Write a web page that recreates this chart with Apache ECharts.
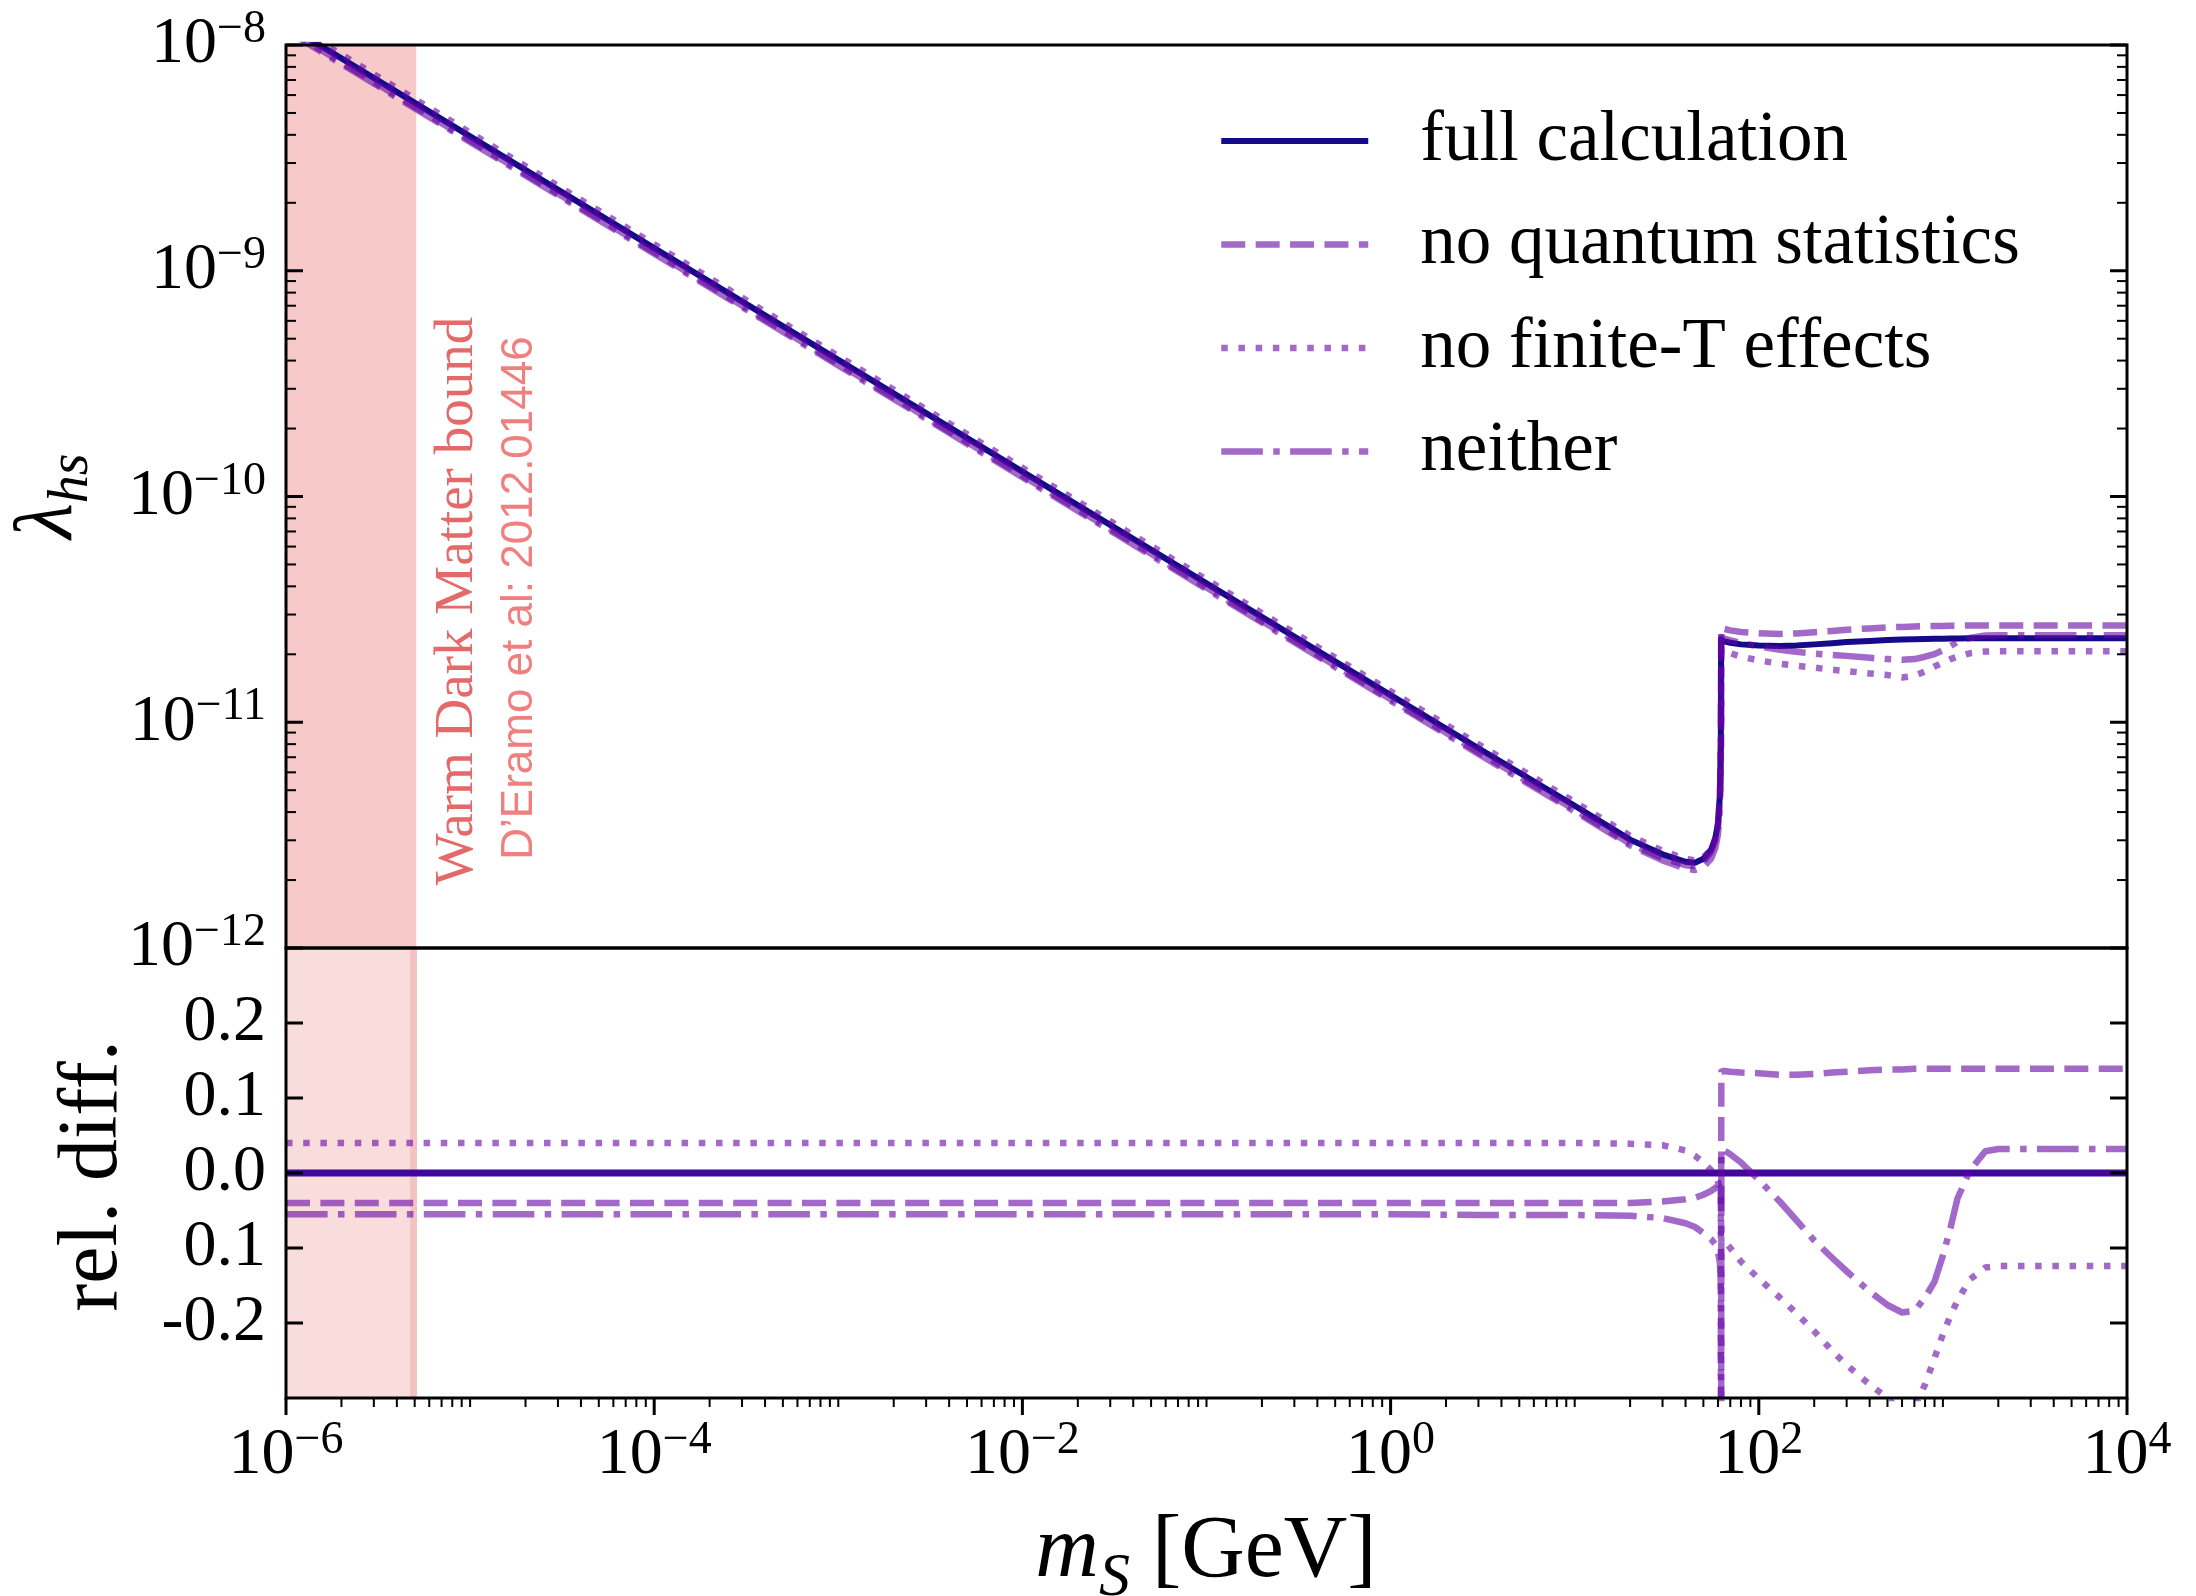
<!DOCTYPE html>
<html>
<head>
<meta charset="utf-8">
<title>Freeze-in coupling λhs versus scalar mass</title>
<script src="https://cdn.jsdelivr.net/npm/echarts@6/dist/echarts.min.js"></script>
<style>
  html, body { margin: 0; padding: 0; background: #ffffff; }
  #chart { width: 2196px; height: 1596px; }
</style>
</head>
<body>
<div id="chart"></div>
<script>
// ---------------------------------------------------------------------------
// Data: scalar mass grid (GeV) shared by every curve
// ---------------------------------------------------------------------------
const massGeV = [
  1e-6, 1e-5, 1e-4, 1e-3, 1e-2, 1e-1, 1, 3, 10,
  20, 30, 40, 45, 50, 55, 58, 60, 61.5,
  62.2, 62.4, 62.6,
  65, 70, 80, 100,
  130, 160, 200, 250, 300,
  400, 500, 600, 700, 800, 900, 1000,
  1100, 1200, 1400, 1700, 2000, 3000, 10000
];

// Coupling λhs giving the observed relic abundance
const lambdaFull = [
  1.230e-8, 3.936e-9, 1.259e-9, 4.027e-10, 1.288e-10, 4.121e-11, 1.318e-11, 7.674e-12, 4.266e-12,
  3.020e-12, 2.600e-12, 2.410e-12, 2.388e-12, 2.483e-12, 2.723e-12, 3.055e-12, 3.548e-12, 4.786e-12,
  7.943e-12, 2.333e-11, 2.317e-11,
  2.280e-11, 2.249e-11, 2.213e-11, 2.188e-11,
  2.178e-11, 2.188e-11, 2.213e-11, 2.239e-11, 2.265e-11,
  2.291e-11, 2.312e-11, 2.323e-11, 2.333e-11, 2.339e-11, 2.344e-11, 2.344e-11,
  2.350e-11, 2.350e-11, 2.355e-11, 2.355e-11, 2.355e-11, 2.355e-11, 2.355e-11
];
const lambdaNoQuantumStats = [
  1.181e-8, 3.779e-9, 1.209e-9, 3.866e-10, 1.236e-10, 3.956e-11, 1.265e-11, 7.367e-12, 4.095e-12,
  2.899e-12, 2.501e-12, 2.326e-12, 2.309e-12, 2.411e-12, 2.658e-12, 2.994e-12, 3.491e-12, 4.729e-12,
  7.705e-12, 2.146e-11, 2.630e-11,
  2.590e-11, 2.553e-11, 2.510e-11, 2.479e-11,
  2.463e-11, 2.475e-11, 2.505e-11, 2.539e-11, 2.571e-11,
  2.605e-11, 2.631e-11, 2.644e-11, 2.657e-11, 2.664e-11, 2.670e-11, 2.670e-11,
  2.677e-11, 2.677e-11, 2.682e-11, 2.682e-11, 2.682e-11, 2.682e-11, 2.682e-11
];
const lambdaNoFiniteT = [
  1.279e-8, 4.093e-9, 1.309e-9, 4.188e-10, 1.340e-10, 4.286e-11, 1.371e-11, 7.981e-12, 4.437e-12,
  3.138e-12, 2.696e-12, 2.482e-12, 2.443e-12, 2.518e-12, 2.734e-12, 3.043e-12, 3.505e-12, 4.690e-12,
  7.665e-12, 8.500e-12, 2.120e-11,
  2.075e-11, 2.024e-11, 1.952e-11, 1.879e-11,
  1.816e-11, 1.779e-11, 1.746e-11, 1.708e-11, 1.685e-11,
  1.645e-11, 1.618e-11, 1.580e-11, 1.605e-11, 1.679e-11, 1.765e-11, 1.840e-11,
  1.904e-11, 1.951e-11, 2.021e-11, 2.058e-11, 2.063e-11, 2.063e-11, 2.063e-11
];
const lambdaNeither = [
  1.162e-8, 3.720e-9, 1.190e-9, 3.806e-10, 1.217e-10, 3.894e-11, 1.246e-11, 7.244e-12, 4.027e-12,
  2.848e-12, 2.444e-12, 2.249e-12, 2.216e-12, 2.284e-12, 2.483e-12, 2.765e-12, 3.175e-12, 4.212e-12,
  6.752e-12, 7.500e-12, 2.387e-11,
  2.348e-11, 2.305e-11, 2.244e-11, 2.168e-11,
  2.095e-11, 2.050e-11, 2.014e-11, 1.986e-11, 1.968e-11,
  1.929e-11, 1.905e-11, 1.891e-11, 1.904e-11, 1.951e-11, 2.004e-11, 2.086e-11,
  2.178e-11, 2.270e-11, 2.362e-11, 2.423e-11, 2.430e-11, 2.430e-11, 2.430e-11
];

// Relative difference to the full calculation
const relMassFull = [1e-6, 1e4];
const relFull = [0, 0];
const relNoQuantumStats = [
  -0.040, -0.040, -0.040, -0.040, -0.040, -0.040, -0.040, -0.040, -0.040,
  -0.040, -0.038, -0.035, -0.033, -0.029, -0.024, -0.020, -0.016, -0.012,
  -0.030, -0.080, 0.135,
  0.136, 0.135, 0.134, 0.133,
  0.131, 0.131, 0.132, 0.134, 0.135,
  0.137, 0.138, 0.138, 0.139, 0.139, 0.139, 0.139,
  0.139, 0.139, 0.139, 0.139, 0.139, 0.139, 0.139
];
const relNoFiniteT = [
  0.040, 0.040, 0.040, 0.040, 0.040, 0.040, 0.040, 0.040, 0.040,
  0.039, 0.037, 0.030, 0.023, 0.014, 0.004, -0.004, -0.012, -0.020,
  -0.035, -0.636, -0.085,
  -0.090, -0.100, -0.118, -0.141,
  -0.166, -0.187, -0.211, -0.237, -0.256,
  -0.282, -0.300, -0.320, -0.312, -0.282, -0.247, -0.215,
  -0.190, -0.170, -0.142, -0.126, -0.124, -0.124, -0.124
];
const relNeither = [
  -0.055, -0.055, -0.055, -0.055, -0.055, -0.055, -0.055, -0.056, -0.056,
  -0.057, -0.060, -0.067, -0.072, -0.080, -0.088, -0.095, -0.105, -0.120,
  -0.150, -0.679, 0.030,
  0.030, 0.025, 0.014, -0.009,
  -0.038, -0.063, -0.090, -0.113, -0.131,
  -0.158, -0.176, -0.186, -0.184, -0.166, -0.145, -0.110,
  -0.073, -0.034, 0.003, 0.029, 0.032, 0.032, 0.032
];

// Warm dark matter exclusion (GeV)
const wdmBandMass = [1e-6, 5.1e-6];
const wdmEdgeMass = 4.93e-6;

// Axis ticks and labels
const xLabelExponents = [-6, -4, -2, 0, 2, 4];
const yUpperLabelExponents = [-12, -11, -10, -9, -8];
const yLowerTickValues = [-0.2, -0.1, 0.0, 0.1, 0.2];
const yLowerTickLabels = ['-0.2', '0.1', '0.0', '0.1', '0.2'];
const seriesNames = ['full calculation', 'no quantum statistics', 'no finite-T effects', 'neither'];

// ---------------------------------------------------------------------------
// Styling
// ---------------------------------------------------------------------------
const SERIF = '"Liberation Serif", "Times New Roman", serif';
const SANS = '"Liberation Sans", Arial, sans-serif';
const FULL_COLOR = '#140a8a';
const FULL_COLOR_REL = '#42089e';
const VARIANT_COLOR = 'rgba(100, 5, 165, 0.6)';
const LW = 6.5;
const lineStyles = [
  { color: FULL_COLOR, width: 6, type: 'solid' },
  { color: VARIANT_COLOR, width: LW, type: [24, 10.4] },
  { color: VARIANT_COLOR, width: LW, type: [6.5, 10.7] },
  { color: VARIANT_COLOR, width: LW, type: [41.6, 10.4, 6.5, 10.4] }
];

const powRich = {
  b: { fontFamily: SERIF, fontSize: 66, lineHeight: 66, verticalAlign: 'middle', color: '#000' },
  s: { fontFamily: SERIF, fontSize: 46, lineHeight: 36, height: 36, verticalAlign: 'top', color: '#000' }
};
function expOf(v) { return Math.round(Math.log10(v)); }
function powLabel(e) {
  return '{b|10}{s|' + (e < 0 ? '\u2212' + (-e) : String(e)) + '}';
}

// Tick positions (decade majors and 2..9 minors)
const xMajorTicks = xLabelExponents.map(e => Math.pow(10, e));
const xMinorTicks = [];
for (let e = -6; e < 4; e++) {
  for (let n = 1; n <= 9; n++) {
    if (n === 1 && xLabelExponents.indexOf(e) >= 0) continue;
    xMinorTicks.push(n * Math.pow(10, e));
  }
}
const yUpperMajorTicks = yUpperLabelExponents.map(e => Math.pow(10, e));
const yUpperMinorTicks = [];
for (let e = -12; e < -8; e++) {
  for (let n = 2; n <= 9; n++) yUpperMinorTicks.push(n * Math.pow(10, e));
}

function tickLine(x1, y1, x2, y2, major) {
  return { type: 'line', shape: { x1, y1, x2, y2 }, style: { stroke: '#000', lineWidth: major ? 3 : 2 } };
}
// inward ticks on the left and right edges of a panel
function yTickRender(params, api) {
  const cs = params.coordSys;
  const y = api.coord([api.value(0), api.value(1)])[1];
  const major = api.value(2) === 1;
  const len = major ? 17 : 10;
  return {
    type: 'group',
    children: [
      tickLine(cs.x, y, cs.x + len, y, major),
      tickLine(cs.x + cs.width, y, cs.x + cs.width - len, y, major)
    ]
  };
}
// outward ticks below the mass axis
function xTickRender(params, api) {
  const cs = params.coordSys;
  const x = api.coord([api.value(0), api.value(1)])[0];
  const major = api.value(2) === 1;
  const len = major ? 17 : 9;
  const yb = cs.y + cs.height;
  return tickLine(x, yb, x, yb + len, major);
}
function frameRender(params) {
  const cs = params.coordSys;
  return {
    type: 'rect',
    shape: { x: cs.x, y: cs.y, width: cs.width, height: cs.height },
    style: { fill: null, stroke: '#000', lineWidth: 3 }
  };
}
function bandRender(fill, edgeColor) {
  return function (params, api) {
    const cs = params.coordSys;
    const x1 = api.coord([api.value(0), api.value(2)])[0];
    const x2 = api.coord([api.value(1), api.value(2)])[0];
    const children = [{
      type: 'rect',
      shape: { x: x1, y: cs.y, width: x2 - x1, height: cs.height },
      style: { fill: fill }
    }];
    if (edgeColor) {
      const xe = api.coord([api.value(3), api.value(2)])[0];
      children.push({
        type: 'line',
        shape: { x1: xe, y1: cs.y, x2: xe, y2: cs.y + cs.height },
        style: { stroke: edgeColor, lineWidth: 7 }
      });
    }
    return { type: 'group', children: children };
  };
}

function pairs(xs, ys) { return xs.map((x, i) => [x, ys[i]]); }

function lineSeries(name, data, style, gridIdx, z, colorOverride, widthOverride) {
  return {
    name: name,
    type: 'line',
    xAxisIndex: gridIdx,
    yAxisIndex: gridIdx,
    data: data,
    symbol: 'none',
    showSymbol: false,
    silent: true,
    clip: true,
    z: z,
    lineStyle: {
      color: colorOverride || style.color,
      width: widthOverride || style.width,
      type: style.type,
      cap: 'butt',
      join: 'round'
    },
    itemStyle: { color: colorOverride || style.color }
  };
}

const upperCurves = [lambdaFull, lambdaNoQuantumStats, lambdaNoFiniteT, lambdaNeither];
const lowerCurves = [relNoQuantumStats, relNoFiniteT, relNeither];

const series = [];
// shaded warm-dark-matter region
series.push({
  type: 'custom', xAxisIndex: 0, yAxisIndex: 0, z: 1, silent: true,
  encode: { x: [0, 1], y: 2 },
  data: [[wdmBandMass[0], wdmBandMass[1], 1e-10]],
  renderItem: bandRender('#f7c9c9', null)
});
series.push({
  type: 'custom', xAxisIndex: 1, yAxisIndex: 1, z: 1, silent: true,
  encode: { x: [0, 1, 3], y: 2 },
  data: [[wdmBandMass[0], wdmBandMass[1], 0, wdmEdgeMass]],
  renderItem: bandRender('#f9dcdc', '#f3c3c3')
});

// upper panel: coupling
upperCurves.forEach((ys, i) => {
  series.push(lineSeries(seriesNames[i], pairs(massGeV, ys), lineStyles[i], 0, i === 0 ? 3 : 4));
});
// lower panel: relative difference
series.push(lineSeries(seriesNames[0], pairs(relMassFull, relFull), lineStyles[0], 1, 3, FULL_COLOR_REL, 7));
lowerCurves.forEach((ys, i) => {
  series.push(lineSeries(seriesNames[i + 1], pairs(massGeV, ys), lineStyles[i + 1], 1, 4));
});

// ticks and frames
series.push({
  type: 'custom', xAxisIndex: 0, yAxisIndex: 0, z: 10, silent: true,
  encode: { x: 0, y: 1 },
  data: yUpperMajorTicks.map(v => [1e-6, v, 1]).concat(yUpperMinorTicks.map(v => [1e-6, v, 0])),
  renderItem: yTickRender
});
series.push({
  type: 'custom', xAxisIndex: 1, yAxisIndex: 1, z: 10, silent: true,
  encode: { x: 0, y: 1 },
  data: yLowerTickValues.map(v => [1e-6, v, 1]),
  renderItem: yTickRender
});
series.push({
  type: 'custom', xAxisIndex: 1, yAxisIndex: 1, z: 10, silent: true,
  encode: { x: 0, y: 1 },
  data: xMajorTicks.map(v => [v, 0, 1]).concat(xMinorTicks.map(v => [v, 0, 0])),
  renderItem: xTickRender
});
series.push({
  type: 'custom', xAxisIndex: 0, yAxisIndex: 0, z: 11, silent: true,
  encode: { x: 0, y: 1 }, data: [[1e-6, 1e-10]], renderItem: frameRender
});
series.push({
  type: 'custom', xAxisIndex: 1, yAxisIndex: 1, z: 11, silent: true,
  encode: { x: 0, y: 1 }, data: [[1e-6, 0]], renderItem: frameRender
});

const hiddenAxisParts = {
  axisLine: { show: false },
  axisTick: { show: false },
  splitLine: { show: false },
  minorTick: { show: false },
  minorSplitLine: { show: false }
};

const option = {
  animation: false,
  backgroundColor: '#ffffff',
  grid: [
    { left: 286, top: 45, width: 1841, height: 903, containLabel: false },
    { left: 286, top: 948, width: 1841, height: 450, containLabel: false }
  ],
  xAxis: [
    Object.assign({
      gridIndex: 0, type: 'log', logBase: 10, min: 1e-6, max: 1e4,
      axisLabel: { show: false }
    }, hiddenAxisParts),
    Object.assign({
      gridIndex: 1, type: 'log', logBase: 10, min: 1e-6, max: 1e4, splitNumber: 10,
      axisLabel: {
        margin: 25,
        customValues: xMajorTicks,
        formatter: function (v) {
          const e = expOf(v);
          return xLabelExponents.indexOf(e) >= 0 ? powLabel(e) : '';
        },
        rich: powRich
      }
    }, hiddenAxisParts)
  ],
  yAxis: [
    Object.assign({
      gridIndex: 0, type: 'log', logBase: 10, min: 1e-12, max: 1e-8, splitNumber: 4,
      axisLabel: {
        margin: 20,
        customValues: yUpperMajorTicks,
        formatter: function (v) {
          const e = expOf(v);
          return yUpperLabelExponents.indexOf(e) >= 0 ? powLabel(e) : '';
        },
        rich: powRich
      }
    }, hiddenAxisParts),
    Object.assign({
      gridIndex: 1, type: 'value', min: -0.3, max: 0.3, interval: 0.1,
      axisLabel: {
        margin: 20,
        fontFamily: SERIF, fontSize: 66, color: '#000',
        formatter: function (v) {
          const i = yLowerTickValues.findIndex(t => Math.abs(t - v) < 1e-6);
          return i >= 0 ? yLowerTickLabels[i] : '';
        }
      }
    }, hiddenAxisParts)
  ],
  legend: {
    data: seriesNames,
    orient: 'vertical',
    left: 1218,
    top: 105,
    padding: 0,
    itemWidth: 147,
    itemHeight: 20,
    itemGap: 31.5,
    selectedMode: false,
    itemStyle: { opacity: 0, borderWidth: 0 },
    lineStyle: { width: 'inherit' },
    textStyle: {
      fontFamily: SERIF, fontSize: 71, lineHeight: 72, color: '#000',
      padding: [0, 0, 0, 47]
    }
  },
  graphic: [
    {
      type: 'text', x: 49, y: 496, rotation: Math.PI / 2, z: 20,
      style: {
        text: '{l|\u03bb}{s|hs}',
        align: 'center', verticalAlign: 'middle',
        textAlign: 'center', textVerticalAlign: 'middle',
        rich: {
          l: { fontFamily: SERIF, fontStyle: 'italic', fontSize: 82, lineHeight: 82, verticalAlign: 'middle', fill: '#000' },
          s: { fontFamily: SERIF, fontStyle: 'italic', fontSize: 56, lineHeight: 36, height: 36, verticalAlign: 'bottom', fill: '#000' }
        }
      }
    },
    {
      type: 'text', x: 94, y: 1176, rotation: Math.PI / 2, z: 20,
      style: {
        text: 'rel. diff.',
        fontFamily: SERIF, fontSize: 84, fill: '#000',
        align: 'center', verticalAlign: 'middle',
        textAlign: 'center', textVerticalAlign: 'middle'
      }
    },
    {
      type: 'text', x: 1206, y: 1553, z: 20,
      style: {
        text: '{m|m}{s|S}{t| [GeV]}',
        align: 'center', verticalAlign: 'middle',
        textAlign: 'center', textVerticalAlign: 'middle',
        rich: {
          m: { fontFamily: SERIF, fontStyle: 'italic', fontSize: 88, lineHeight: 88, verticalAlign: 'middle', fill: '#000' },
          s: { fontFamily: SERIF, fontStyle: 'italic', fontSize: 62, lineHeight: 36, height: 36, verticalAlign: 'bottom', fill: '#000' },
          t: { fontFamily: SERIF, fontSize: 88, lineHeight: 88, verticalAlign: 'middle', fill: '#000' }
        }
      }
    },
    {
      type: 'text', x: 458, y: 601, rotation: Math.PI / 2, z: 20,
      style: {
        text: 'Warm Dark Matter bound',
        fontFamily: SERIF, fontSize: 55, fill: '#e46a6a',
        align: 'center', verticalAlign: 'middle',
        textAlign: 'center', textVerticalAlign: 'middle'
      }
    },
    {
      type: 'text', x: 520, y: 598, rotation: Math.PI / 2, z: 20,
      style: {
        text: 'D\u2019Eramo et al: 2012.01446',
        fontFamily: SANS, fontSize: 44, fill: '#f08080',
        align: 'center', verticalAlign: 'middle',
        textAlign: 'center', textVerticalAlign: 'middle'
      }
    }
  ],
  series: series
};

const chart = echarts.init(document.getElementById('chart'), null, { renderer: 'canvas' });
chart.setOption(option);
</script>
</body>
</html>
